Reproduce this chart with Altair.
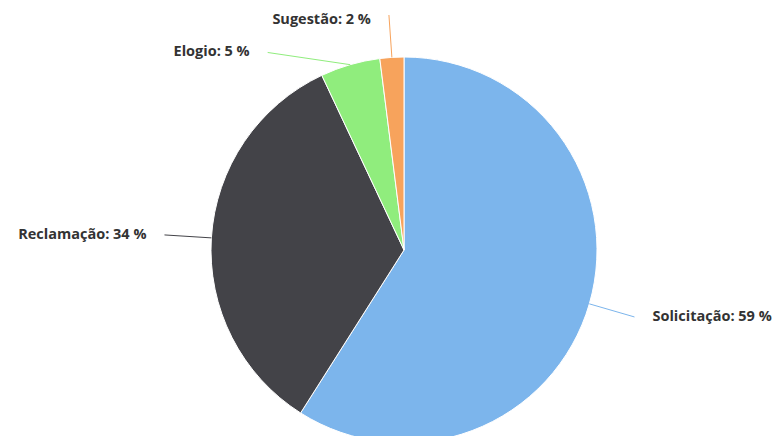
import altair as alt
import pandas as pd

categories = ["Solicitação", "Reclamação", "Elogio", "Sugestão"]
values = [59, 34, 5, 2]
colors = ["#7cb5ec", "#434348", "#90ed7d", "#f7a35c"]

df = pd.DataFrame({"category": categories, "value": values, "order": list(range(len(categories)))})

CX, CY, R, R2, PAD = 396, 242, 193, 240, 18

color_scale = alt.Scale(domain=categories, range=colors)

arc = alt.Chart(df).mark_arc(radius=R, stroke="white", strokeWidth=1).encode(
    theta=alt.Theta("value:Q", stack=True),
    order=alt.Order("order:Q"),
    color=alt.Color("category:N", scale=color_scale, legend=None),
    x=alt.value(CX),
    y=alt.value(CY),
)

base = (
    alt.Chart(df)
    .transform_joinaggregate(total="sum(value)")
    .transform_window(
        window=[alt.WindowFieldDef(op="sum", field="value", **{"as": "cum"})],
        sort=[alt.SortField("order")],
        frame=[None, 0],
    )
    .transform_calculate(mid="(datum.cum - datum.value/2) / datum.total * 2 * PI")
    .transform_calculate(
        ex=f"{CX} + {R} * sin(datum.mid)",
        ey=f"{CY} - {R} * cos(datum.mid)",
        side="sin(datum.mid) < 0 ? 'left' : 'right'",
        ly0=f"{CY} - {R2} * cos(datum.mid)",
    )
    .transform_window(
        window=[alt.WindowFieldDef(op="lag", field="ly0", **{"as": "prevY"})],
        groupby=["side"],
        sort=[alt.SortField("ly0")],
    )
    .transform_calculate(ly="isValid(datum.prevY) ? max(datum.ly0, datum.prevY + 42) : datum.ly0")
    .transform_calculate(dy=f"clamp(datum.ly - {CY}, -{R2}, {R2})")
    .transform_calculate(
        lx=f"{CX} + (datum.side == 'left' ? -1 : 1) * sqrt({R2}*{R2} - datum.dy*datum.dy)",
        cy2="max(datum.ly, 7)",
        ty="max(datum.ly, 12)",
    )
    .transform_calculate(
        tx=f"datum.lx + (datum.side == 'left' ? -{PAD} : {PAD})",
        label="datum.category + ': ' + datum.value + ' %'",
    )
)

rules = base.mark_rule(strokeWidth=1).encode(
    x=alt.X("ex:Q", scale=None, axis=None),
    y=alt.Y("ey:Q", scale=None, axis=None),
    x2="lx:Q",
    y2="cy2:Q",
    color=alt.Color("category:N", scale=color_scale, legend=None),
)

text_kw = dict(font="Open Sans", fontSize=14.5, fontWeight="bold", color="#333333", baseline="middle")

text_left = base.transform_filter("datum.side == 'left'").mark_text(align="right", **text_kw).encode(
    x=alt.X("tx:Q", scale=None, axis=None),
    y=alt.Y("ty:Q", scale=None, axis=None),
    text="label:N",
)
text_right = base.transform_filter("datum.side == 'right'").mark_text(align="left", **text_kw).encode(
    x=alt.X("tx:Q", scale=None, axis=None),
    y=alt.Y("ty:Q", scale=None, axis=None),
    text="label:N",
)

chart = (
    alt.layer(arc, rules, text_left, text_right)
    .properties(width=765, height=428, padding=0, autosize="none", background="white")
    .configure_view(stroke=None)
)

chart.save("out.html", embed_options={"renderer": "svg", "actions": False})
